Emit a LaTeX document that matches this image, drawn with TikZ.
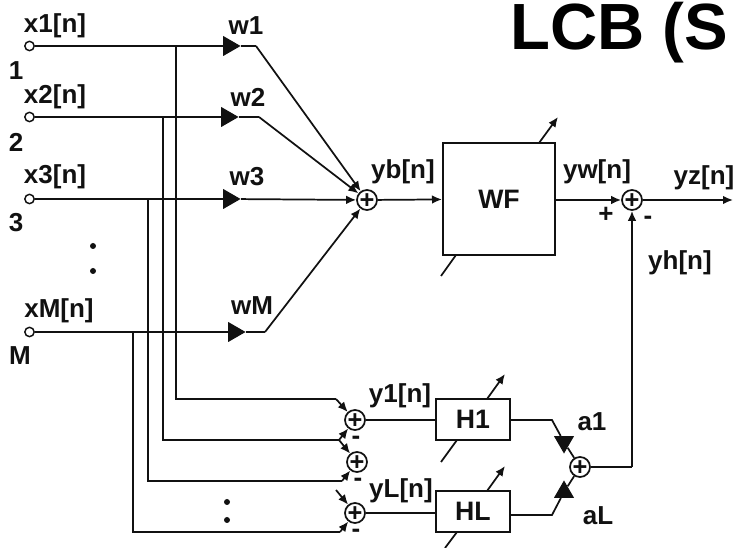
\documentclass[tikz,border=0pt]{standalone}
\usepackage{fontspec}
\setmainfont{Liberation Sans}
\usetikzlibrary{shapes.geometric, arrows.meta, positioning}
\definecolor{lcbink}{HTML}{111111}
\newcommand{\sumplus}{\makebox[0pt]{\raisebox{-0.33em}[0pt][0pt]{+}}}

\begin{document}
\begin{tikzpicture}[x=0.75pt, y=-0.75pt,
        wire/.style={line width=1.3pt, lcbink},
        arrow/.style={wire, -{Latex[length=7.5pt,width=6.5pt]}},
        sumnode/.style={circle, draw=lcbink, line width=1.3pt, fill=white, inner sep=0pt, minimum size=15pt, font=\fontsize{19}{19}\bfseries, text=lcbink},
        inport/.style={circle, draw=lcbink, line width=1.1pt, fill=white, inner sep=0pt, minimum size=7pt},
        gain/.style={isosceles triangle, isosceles triangle stretches, fill=lcbink, inner sep=0pt, minimum width=15pt, minimum height=13pt},
        box/.style={draw=lcbink, line width=1.5pt, fill=white, inner sep=0pt, font=\fontsize{20}{20}\bfseries, text=lcbink},
        lbl/.style={font=\fontsize{19.5}{19.5}\bfseries, text=lcbink, inner sep=0pt},
        dotmark/.style={circle, fill=lcbink, inner sep=0pt, minimum size=4.5pt}
    ]
        \useasboundingbox (0,0) rectangle (733,548);

        \node (title) [anchor=base west, inner sep=0pt, font=\fontsize{49}{49}\bfseries] at (510,50) {LCB (S};

        \node (x1) [inport] at (29.5,46) {};
        \node (x2) [inport] at (29.5,117) {};
        \node (x3) [inport] at (29.5,199) {};
        \node (xM) [inport] at (29.5,332) {};

        \node (g1) [gain] at (229,46) {};
        \node (g2) [gain] at (227,117) {};
        \node (g3) [gain] at (229,199) {};
        \node (gM) [gain] at (234,332) {};

        \node (sumb) [sumnode] at (367,200) {\sumplus};
        \node (sumw) [sumnode] at (632,200) {\sumplus};
        \node (sum1) [sumnode] at (355,420) {\sumplus};
        \node (sum2) [sumnode] at (357,462) {\sumplus};
        \node (sumL) [sumnode] at (355,513) {\sumplus};
        \node (sumh) [sumnode] at (580,467) {\sumplus};

        \node (wf) [box, minimum width=84pt, minimum height=84pt] at (499,199) {WF};
        \node (h1) [box, minimum width=55.5pt, minimum height=30.5pt] at (473,419.5) {H1};
        \node (hL) [box, minimum width=55.5pt, minimum height=30.5pt] at (473,511.5) {HL};

        \node (g5) [gain, shape border rotate=-59] at (564,442) {};
        \node (g6) [gain, shape border rotate=59] at (564,492) {};

        \coordinate (k1) at (256,46);
        \coordinate (k2) at (259,117);
        \coordinate (kM) at (265,332);
        \coordinate (t1) at (176,46);
        \coordinate (t2) at (163,117);
        \coordinate (t3) at (148,199);
        \coordinate (tM) at (133,332);
        \coordinate (b1) at (176,399);
        \coordinate (b2) at (163,440);
        \coordinate (b3) at (148,481);
        \coordinate (bM) at (133,532);
        \coordinate (e1) at (336,399);
        \coordinate (e2) at (339,440);
        \coordinate (e3) at (342,481);
        \coordinate (eM) at (340,532);
        \coordinate (s4) at (336,490);
        \coordinate (yzend) at (733,200);
        \coordinate (o1) at (552,420);
        \coordinate (oL) at (552,515);
        \coordinate (hh) at (632,467);

        \coordinate (wfa) at (539,143);
        \coordinate (wfb) at (558,117);
        \coordinate (wfc) at (456,255);
        \coordinate (wfd) at (441,276);
        \coordinate (h1a) at (487,399);
        \coordinate (h1b) at (505,374);
        \coordinate (h1c) at (457,440);
        \coordinate (h1d) at (441,462);
        \coordinate (hLa) at (487,491);
        \coordinate (hLb) at (505,466);
        \coordinate (hLc) at (457,532);
        \coordinate (hLd) at (445,548);

        \draw [wire] (x1) -- (g1) -- (k1);
        \draw [wire] (x2) -- (g2) -- (k2);
        \draw [wire] (xM) -- (gM) -- (kM);
        \draw [arrow] (k1) -- (sumb);
        \draw [arrow] (k2) -- (sumb);
        \draw [arrow] (x3) -- (g3) -- (sumb);
        \draw [arrow] (kM) -- (sumb);

        \draw [wire] (t1) -- (b1) -- (e1);
        \draw [wire] (t2) -- (b2) -- (e2);
        \draw [wire] (t3) -- (b3) -- (e3);
        \draw [wire] (tM) -- (bM) -- (eM);
        \draw [arrow] (e1) -- (sum1);
        \draw [arrow] (e2) -- (sum1);
        \draw [arrow] (e2) -- (sum2);
        \draw [arrow] (e3) -- (sum2);
        \draw [arrow] (s4) -- (sumL);
        \draw [arrow] (eM) -- (sumL);

        \draw [arrow] (sumb) -- (wf);
        \draw [arrow] (wf.east |- sumw) -- (sumw);
        \draw [arrow] (sumw) -- (yzend);
        \draw [wire] (sum1) -- (h1.west |- sum1);
        \draw [wire] (sumL) -- (hL.west |- sumL);
        \draw [wire] (h1.east |- o1) -- (o1) -- (g5) -- (sumh);
        \draw [wire] (hL.east |- oL) -- (oL) -- (g6) -- (sumh);
        \draw [wire] (sumh) -- (hh);
        \draw [arrow] (hh) -- (sumw);

        \draw [arrow] (wfa) -- (wfb);
        \draw [wire] (wfc) -- (wfd);
        \draw [arrow] (h1a) -- (h1b);
        \draw [wire] (h1c) -- (h1d);
        \draw [arrow] (hLa) -- (hLb);
        \draw [wire] (hLc) -- (hLd);

        \node (lx1) [lbl] at (55,26) {x1[n]};
        \node (lx2) [lbl] at (55,97) {x2[n]};
        \node (lx3) [lbl] at (55,177) {x3[n]};
        \node (lxM) [lbl] at (59,311) {xM[n]};
        \node (n1) [lbl] at (16,71) {1};
        \node (n2) [lbl] at (16,142) {2};
        \node (n3) [lbl] at (16,223) {3};
        \node (nM) [lbl] at (20,356) {M};
        \node (lw1) [lbl] at (246,26) {w1};
        \node (lw2) [lbl] at (248,97) {w2};
        \node (lw3) [lbl] at (247,177) {w3};
        \node (lwM) [lbl] at (252,306) {wM};
        \node (lyb) [lbl] at (403,172) {yb[n]};
        \node (lyw) [lbl] at (597,172) {yw[n]};
        \node (lyz) [lbl] at (704,178) {yz[n]};
        \node (lyh) [lbl] at (680,263) {yh[n]};
        \node (ly1) [lbl] at (400,396) {y1[n]};
        \node (lyL) [lbl] at (401,491) {yL[n]};
        \node (la1) [lbl] at (592,422) {a1};
        \node (laL) [lbl] at (598,516) {aL};
        \node (pw) [lbl] at (606,215) {+};
        \node (mw) [lbl] at (648,220) {-};
        \node (m1) [lbl] at (356,440) {-};
        \node (m2) [lbl] at (358,482) {-};
        \node (mL) [lbl] at (356,533) {-};

        \node (d1) [dotmark] at (93,246) {};
        \node (d2) [dotmark] at (93,271) {};
        \node (d3) [dotmark] at (227,502) {};
        \node (d4) [dotmark] at (227,520) {};
    \end{tikzpicture}
\end{document}
